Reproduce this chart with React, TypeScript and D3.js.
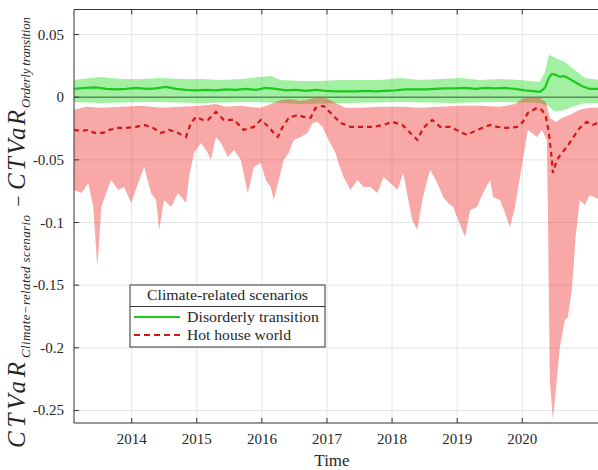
import React from 'react';
import * as d3 from 'd3';

const xTicks = [2014, 2015, 2016, 2017, 2018, 2019, 2020];
const yTicks = [0.05, 0, -0.05, -0.1, -0.15, -0.2, -0.25];
const yTickLabels = ['0.05', '0', '-0.05', '-0.1', '-0.15', '-0.2', '-0.25'];

// Hot house world: lower bound of band
const redLowT = [2013.114, 2013.227, 2013.334, 2013.410, 2013.472, 2013.502, 2013.533, 2013.609, 2013.686, 2013.793, 2013.885, 2013.992, 2014.100, 2014.192, 2014.299, 2014.375, 2014.421, 2014.498, 2014.605, 2014.712, 2014.835, 2014.881, 2014.957, 2015.064, 2015.171, 2015.217, 2015.294, 2015.370, 2015.478, 2015.570, 2015.677, 2015.784, 2015.876, 2015.983, 2016.060, 2016.136, 2016.182, 2016.259, 2016.335, 2016.412, 2016.489, 2016.596, 2016.703, 2016.779, 2016.856, 2016.933, 2017.025, 2017.132, 2017.162, 2017.254, 2017.361, 2017.469, 2017.561, 2017.668, 2017.775, 2017.867, 2017.974, 2018.081, 2018.173, 2018.250, 2018.311, 2018.387, 2018.464, 2018.541, 2018.587, 2018.694, 2018.786, 2018.862, 2018.939, 2019.015, 2019.122, 2019.199, 2019.306, 2019.398, 2019.505, 2019.551, 2019.658, 2019.735, 2019.812, 2019.888, 2019.965, 2020.041, 2020.087, 2020.149, 2020.225, 2020.302, 2020.378, 2020.394, 2020.409, 2020.424, 2020.470, 2020.501, 2020.577, 2020.654, 2020.700, 2020.761, 2020.822, 2020.884, 2020.960, 2021.037, 2021.194];
const redLowV = [-0.0740, -0.0764, -0.0685, -0.0876, -0.1355, -0.1140, -0.0876, -0.0764, -0.0661, -0.0740, -0.0716, -0.0844, -0.0685, -0.0557, -0.0764, -0.0820, -0.1060, -0.0820, -0.0876, -0.0764, -0.0844, -0.0637, -0.0445, -0.0365, -0.0445, -0.0501, -0.0317, -0.0365, -0.0477, -0.0421, -0.0501, -0.0764, -0.0557, -0.0525, -0.0661, -0.0716, -0.0820, -0.0661, -0.0501, -0.0445, -0.0341, -0.0317, -0.0285, -0.0205, -0.0197, -0.0237, -0.0341, -0.0445, -0.0501, -0.0637, -0.0740, -0.0661, -0.0716, -0.0716, -0.0764, -0.0637, -0.0685, -0.0740, -0.0605, -0.0820, -0.0980, -0.1060, -0.0820, -0.0661, -0.0581, -0.0685, -0.0796, -0.0844, -0.0876, -0.0980, -0.1115, -0.0900, -0.0876, -0.0764, -0.0661, -0.0796, -0.0820, -0.0924, -0.1036, -0.0876, -0.0637, -0.0397, -0.0261, -0.0285, -0.0317, -0.0261, -0.0341, -0.0900, -0.1619, -0.2258, -0.2577, -0.2418, -0.1994, -0.1779, -0.1755, -0.1540, -0.1100, -0.0820, -0.0860, -0.0780, -0.0820];

// Hot house world: upper bound of band
const redHighT = [2013.114, 2013.303, 2013.533, 2013.839, 2014.146, 2014.452, 2014.758, 2015.064, 2015.294, 2015.447, 2015.677, 2015.983, 2016.136, 2016.289, 2016.443, 2016.596, 2016.749, 2016.902, 2017.055, 2017.132, 2017.285, 2017.515, 2017.821, 2018.127, 2018.433, 2018.740, 2019.046, 2019.352, 2019.658, 2019.888, 2019.995, 2020.118, 2020.271, 2020.363, 2020.424, 2020.516, 2020.608, 2020.730, 2020.884, 2021.037, 2021.194];
const redHighV = [-0.0101, -0.0077, -0.0085, -0.0077, -0.0069, -0.0085, -0.0077, -0.0069, -0.0054, -0.0077, -0.0069, -0.0085, -0.0054, -0.0022, -0.0014, -0.0030, -0.0014, 0.0002, -0.0022, -0.0046, -0.0085, -0.0085, -0.0077, -0.0077, -0.0085, -0.0077, -0.0069, -0.0069, -0.0077, -0.0054, -0.0014, 0.0002, -0.0006, -0.0038, -0.0165, -0.0197, -0.0165, -0.0141, -0.0101, -0.0085, -0.0085];

// Hot house world: central line
const redMidT = [2013.114, 2013.227, 2013.334, 2013.426, 2013.564, 2013.655, 2013.793, 2013.916, 2014.069, 2014.192, 2014.329, 2014.452, 2014.574, 2014.712, 2014.835, 2014.911, 2014.988, 2015.095, 2015.171, 2015.294, 2015.416, 2015.570, 2015.723, 2015.876, 2015.983, 2016.106, 2016.182, 2016.244, 2016.320, 2016.412, 2016.550, 2016.642, 2016.749, 2016.825, 2016.948, 2017.055, 2017.208, 2017.361, 2017.561, 2017.714, 2017.867, 2018.005, 2018.158, 2018.280, 2018.387, 2018.479, 2018.617, 2018.740, 2018.893, 2019.046, 2019.153, 2019.306, 2019.505, 2019.613, 2019.766, 2019.919, 2020.011, 2020.087, 2020.225, 2020.302, 2020.363, 2020.409, 2020.455, 2020.470, 2020.531, 2020.608, 2020.685, 2020.776, 2020.884, 2020.991, 2021.083, 2021.194];
const redMidV = [-0.0261, -0.0269, -0.0261, -0.0285, -0.0285, -0.0261, -0.0245, -0.0245, -0.0237, -0.0221, -0.0245, -0.0285, -0.0261, -0.0285, -0.0317, -0.0205, -0.0157, -0.0181, -0.0181, -0.0117, -0.0181, -0.0181, -0.0261, -0.0237, -0.0181, -0.0237, -0.0285, -0.0317, -0.0237, -0.0165, -0.0141, -0.0157, -0.0165, -0.0085, -0.0069, -0.0125, -0.0205, -0.0237, -0.0237, -0.0237, -0.0221, -0.0197, -0.0221, -0.0285, -0.0341, -0.0245, -0.0181, -0.0237, -0.0237, -0.0277, -0.0301, -0.0261, -0.0221, -0.0237, -0.0245, -0.0237, -0.0197, -0.0125, -0.0085, -0.0101, -0.0157, -0.0285, -0.0501, -0.0605, -0.0501, -0.0445, -0.0397, -0.0325, -0.0245, -0.0197, -0.0221, -0.0197];

// Disorderly transition: central line
const greenMidT = [2013.114, 2013.303, 2013.456, 2013.609, 2013.762, 2013.916, 2014.069, 2014.222, 2014.375, 2014.528, 2014.681, 2014.835, 2014.988, 2015.141, 2015.294, 2015.447, 2015.600, 2015.753, 2015.907, 2016.060, 2016.213, 2016.366, 2016.519, 2016.672, 2016.825, 2016.979, 2017.132, 2017.285, 2017.438, 2017.591, 2017.744, 2017.897, 2018.051, 2018.204, 2018.357, 2018.510, 2018.663, 2018.816, 2018.969, 2019.122, 2019.276, 2019.429, 2019.582, 2019.735, 2019.888, 2020.041, 2020.271, 2020.348, 2020.409, 2020.455, 2020.516, 2020.577, 2020.639, 2020.700, 2020.807, 2020.914, 2021.037, 2021.194];
const greenMidV = [0.0066, 0.0074, 0.0078, 0.0066, 0.0062, 0.0066, 0.0074, 0.0066, 0.0070, 0.0082, 0.0066, 0.0058, 0.0054, 0.0058, 0.0054, 0.0062, 0.0058, 0.0066, 0.0058, 0.0074, 0.0066, 0.0054, 0.0058, 0.0050, 0.0058, 0.0050, 0.0046, 0.0046, 0.0046, 0.0050, 0.0046, 0.0050, 0.0054, 0.0062, 0.0062, 0.0062, 0.0066, 0.0070, 0.0070, 0.0074, 0.0066, 0.0074, 0.0070, 0.0074, 0.0066, 0.0054, 0.0042, 0.0074, 0.0154, 0.0186, 0.0178, 0.0162, 0.0170, 0.0154, 0.0122, 0.0090, 0.0066, 0.0066];

// Disorderly transition: band bounds
const greenHighT = [2013.114, 2013.380, 2013.533, 2013.839, 2014.146, 2014.452, 2014.758, 2015.064, 2015.370, 2015.677, 2015.983, 2016.136, 2016.289, 2016.596, 2016.902, 2017.208, 2017.515, 2017.821, 2018.127, 2018.433, 2018.740, 2019.046, 2019.352, 2019.658, 2019.965, 2020.271, 2020.348, 2020.409, 2020.501, 2020.654, 2020.807, 2020.960, 2021.194];
const greenHighV = [0.0138, 0.0154, 0.0162, 0.0146, 0.0146, 0.0154, 0.0146, 0.0146, 0.0138, 0.0146, 0.0162, 0.0170, 0.0138, 0.0130, 0.0130, 0.0138, 0.0138, 0.0138, 0.0154, 0.0138, 0.0146, 0.0154, 0.0138, 0.0146, 0.0138, 0.0122, 0.0202, 0.0338, 0.0314, 0.0282, 0.0218, 0.0154, 0.0138];
const greenLowT = [2013.114, 2013.533, 2014.299, 2015.064, 2015.830, 2016.596, 2017.361, 2018.127, 2018.893, 2019.658, 2020.271, 2020.394, 2020.501, 2020.654, 2020.807, 2020.960, 2021.194];
const greenLowV = [-0.0038, -0.0046, -0.0038, -0.0046, -0.0038, -0.0054, -0.0046, -0.0038, -0.0046, -0.0038, -0.0046, -0.0069, -0.0117, -0.0101, -0.0069, -0.0046, -0.0046];

const legendTitle = 'Climate-related scenarios';
const seriesNames = ['Disorderly transition', 'Hot house world'];

const FONT = "'Liberation Serif', 'DejaVu Serif', serif";

export default function App() {
  const W = 598, H = 470;
  const L = 74, T = 9.5, B = 423, R = 600;
  const x = d3.scaleLinear().domain([2013.114, 2021.194]).range([L, R]);
  const y = d3.scaleLinear().domain([-0.26, 0.07]).range([B, T]);
  const zip = (t: number[], v: number[]) => t.map((d, i) => [d, v[i]] as [number, number]);
  const line = d3.line<[number, number]>().x(d => x(d[0])).y(d => y(d[1]));
  const band = (ut: number[], uv: number[], lt: number[], lv: number[]) =>
    (line([...zip(ut, uv), ...zip(lt, lv).reverse()]) || '') + 'Z';

  const axisColor = '#333';
  const txt = '#262626';
  return (
    <svg width={W} height={H} style={{ position: 'absolute', left: 0, top: 0, background: '#fff', fontFamily: FONT }}>
      <defs>
        <clipPath id="plot">
          <rect x={L} y={T} width={R - L} height={B - T} />
        </clipPath>
      </defs>
      <rect x={0} y={0} width={W} height={H} fill="#fff" />
      <g stroke="#e4e4e4" strokeWidth={1}>
        {yTicks.map(t => <line key={'gy' + t} x1={L} x2={R} y1={y(t)} y2={y(t)} />)}
        {xTicks.map(t => <line key={'gx' + t} x1={x(t)} x2={x(t)} y1={T} y2={B} />)}
      </g>
      <g clipPath="url(#plot)">
        <path d={band(greenHighT, greenHighV, greenLowT, greenLowV)} fill="#33dd33" fillOpacity={0.45} />
        <path d={band(redHighT, redHighV, redLowT, redLowV)} fill="#f03030" fillOpacity={0.42} />
        <line x1={L} x2={R} y1={y(0)} y2={y(0)} stroke="#5e8a5e" strokeWidth={1.6} />
        <path d={line(zip(greenMidT, greenMidV)) || ''} fill="none" stroke="#1ec81e" strokeWidth={2.2} />
        <path d={line(zip(redMidT, redMidV)) || ''} fill="none" stroke="#d01818" strokeWidth={2.2} strokeDasharray="5,4" />
      </g>
      <g stroke={axisColor} strokeWidth={1} fill="none">
        <line x1={L} x2={L} y1={T} y2={B} />
        <line x1={L} x2={R} y1={T} y2={T} />
        <line x1={L} x2={R} y1={B} y2={B} />
        {yTicks.map(t => <line key={'ty' + t} x1={L} x2={L + 5} y1={y(t)} y2={y(t)} />)}
        {xTicks.map(t => <line key={'tb' + t} x1={x(t)} x2={x(t)} y1={B} y2={B - 5} />)}
        {xTicks.map(t => <line key={'tt' + t} x1={x(t)} x2={x(t)} y1={T} y2={T + 5} />)}
      </g>
      <g fontSize={15} fill={txt} fontFamily={FONT}>
        {yTicks.map((t, i) => (
          <text key={'ly' + t} x={64} y={y(t) + 5} textAnchor="end">{yTickLabels[i]}</text>
        ))}
        {xTicks.map(t => (
          <text key={'lx' + t} x={x(t)} y={444} textAnchor="middle">{String(t)}</text>
        ))}
      </g>
      <text x={332} y={466} fontSize={17} textAnchor="middle" fill={txt} fontFamily={FONT}>Time</text>
      <g transform="translate(25,448) rotate(-90)" fill={txt} fontStyle="italic" fontFamily={FONT}>
        <text x={0} y={0} fontSize={25} textLength={86} lengthAdjust="spacing">CTVaR</text>
        <text x={90} y={4.5} fontSize={13} textLength={143} lengthAdjust="spacing">Climate−related scenario</text>
        <text x={247} y={0} fontSize={20} fontStyle="normal" textAnchor="middle">−</text>
        <text x={258} y={0} fontSize={25} textLength={80} lengthAdjust="spacing">CTVaR</text>
        <text x={340} y={4.5} fontSize={13} textLength={91} lengthAdjust="spacing">Orderly transition</text>
      </g>
      <g fontFamily={FONT}>
        <rect x={130} y={285} width={195} height={62} fill="#fff" stroke="#333" strokeWidth={1} />
        <line x1={130} x2={325} y1={306.5} y2={306.5} stroke="#333" strokeWidth={1} />
        <text x={147} y={300} fontSize={15} textLength={161} lengthAdjust="spacingAndGlyphs" fill={txt}>{legendTitle}</text>
        <line x1={134} x2={180} y1={317} y2={317} stroke="#1ec81e" strokeWidth={2} />
        <text x={187} y={322} fontSize={15} textLength={132} lengthAdjust="spacingAndGlyphs" fill={txt}>{seriesNames[0]}</text>
        <line x1={134} x2={180} y1={335} y2={335} stroke="#d01818" strokeWidth={2} strokeDasharray="6,4" />
        <text x={187} y={340} fontSize={15} textLength={104} lengthAdjust="spacingAndGlyphs" fill={txt}>{seriesNames[1]}</text>
      </g>
    </svg>
  );
}
